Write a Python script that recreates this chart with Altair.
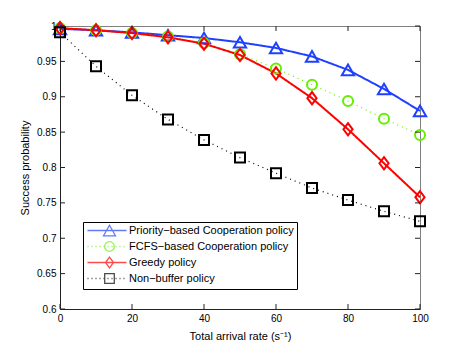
import altair as alt
import pandas as pd

x_vals = [0, 10, 20, 30, 40, 50, 60, 70, 80, 90, 100]
priority = [0.996, 0.994, 0.991, 0.987, 0.983, 0.977, 0.969, 0.957, 0.938, 0.911, 0.880]
fcfs = [0.997, 0.994, 0.990, 0.985, 0.976, 0.960, 0.940, 0.917, 0.894, 0.869, 0.846]
greedy = [0.997, 0.994, 0.990, 0.984, 0.975, 0.959, 0.933, 0.898, 0.854, 0.806, 0.758]
nonbuf = [0.991, 0.943, 0.902, 0.868, 0.839, 0.814, 0.792, 0.771, 0.754, 0.738, 0.724]

series_names = ["Priority\u2212based Cooperation policy", "FCFS\u2212based Cooperation policy",
                "Greedy policy", "Non\u2212buffer policy"]
series_vals = [priority, fcfs, greedy, nonbuf]
colors = ["#2040ff", "#66ee00", "#ff0000", "#000000"]

x_ticks = [0, 20, 40, 60, 80, 100]
y_ticks = [0.6, 0.65, 0.7, 0.75, 0.8, 0.85, 0.9, 0.95, 1.0]
x_min, x_max = 0, 100
y_min, y_max = 0.6, 1.0

FONT = "Liberation Sans"

xs = alt.Scale(domain=[x_min, x_max], nice=False)
ys = alt.Scale(domain=[y_min, y_max], nice=False, zero=False)

diamond_path = "M-0.75,0L0,-1L0.75,0L0,1Z"
marker_shapes = ["triangle-up", "circle", diamond_path, "square"]
marker_sizes = [150, 100, 150, 100]
line_widths = [2, 1.2, 2, 1.2]
dashes = [[1, 0], [1, 4], [1, 0], [1, 4]]

# legend symbols: line + marker in one path, designed in pixels then scaled to symbol units
SYM = 64
u = (SYM ** 0.5) / 2.0          # pixels per path unit


def p(v):
    return f"{v / u:.3f}"


L0, L1, MC = -4, 35, 18          # line start/end and marker centre, px from nominal centre
H = 5.3                          # marker half height
dots = "".join(f"M{p(L0 + 4 * i)},0h{p(1)}" for i in range(10))
leg_paths = [
    f"M{p(L0)},0H{p(L1)}M{p(MC)},{p(-H)}L{p(MC + 6)},{p(H)}L{p(MC - 6)},{p(H)}Z",
    dots + f"M{p(MC + 4.8)},0A{p(4.8)},{p(4.8)} 0 1,1 {p(MC - 4.8)},0A{p(4.8)},{p(4.8)} 0 1,1 {p(MC + 4.8)},0",
    f"M{p(L0)},0H{p(L1)}M{p(MC)},{p(-H)}L{p(MC + 4)},0L{p(MC)},{p(H)}L{p(MC - 4)},0Z",
    dots + f"M{p(MC - 4.8)},{p(-4.8)}H{p(MC + 4.8)}V{p(4.8)}H{p(MC - 4.8)}Z",
]

X = alt.X("x:Q", scale=xs,
          axis=alt.Axis(values=x_ticks, title="Total arrival rate (s\u207b\u00b9)", grid=False,
                        tickSize=0, labelPadding=4, titlePadding=7, labelFlush=False,
                        labelOverlap=False))
Y = alt.Y("y:Q", scale=ys,
          axis=alt.Axis(values=y_ticks, title="Success probability", grid=False, tickSize=0,
                        labelPadding=4, titlePadding=6, labelOverlap=False, labelFlush=False,
                        labelExpr="format(datum.value, '.2~f')"))

layers = []
for name, vals, c, lw, d in zip(series_names, series_vals, colors, line_widths, dashes):
    df = pd.DataFrame({"x": x_vals, "y": vals, "series": name})
    layers.append(alt.Chart(df).mark_line(color=c, strokeWidth=lw, strokeDash=d).encode(x=X, y=Y))
for name, vals, c, shp, sz in zip(series_names, series_vals, colors, marker_shapes, marker_sizes):
    df = pd.DataFrame({"x": x_vals, "y": vals, "series": name})
    layers.append(alt.Chart(df).mark_point(shape=shp, size=sz, filled=False, color=c,
                                           strokeWidth=2, opacity=1).encode(x=X, y=Y))

# legend-only layer (no visible marks)
leg_df = pd.DataFrame({"x": x_vals[:4], "y": [v[0] for v in series_vals], "series": series_names})
legend = alt.Legend(title=None, orient="none", legendX=23, legendY=196,
                    symbolSize=SYM, symbolStrokeWidth=1.3, labelFont=FONT, labelFontSize=11,
                    labelColor="black", labelOffset=32, padding=3, rowPadding=0,
                    strokeColor="black", fillColor="white", labelLimit=300)
layers.append(
    alt.Chart(leg_df).transform_filter("false").mark_point(filled=False).encode(
        x=X, y=Y,
        color=alt.Color("series:N", scale=alt.Scale(domain=series_names, range=colors), legend=legend),
        shape=alt.Shape("series:N", scale=alt.Scale(domain=series_names, range=leg_paths), legend=legend),
    )
)

# inward tick marks along the frame
tick_col = "#222222"
bt = pd.DataFrame({"x": x_ticks, "y": y_min})
tt = pd.DataFrame({"x": x_ticks, "y": y_max})
lt = pd.DataFrame({"x": x_min, "y": y_ticks})
rt = pd.DataFrame({"x": x_max, "y": y_ticks})
layers.append(alt.Chart(bt).mark_tick(orient="vertical", size=5, thickness=1, color=tick_col,
                                      yOffset=-2.5, opacity=1).encode(x=X, y=Y))
layers.append(alt.Chart(tt).mark_tick(orient="vertical", size=5, thickness=1, color=tick_col,
                                      yOffset=2.5, opacity=1).encode(x=X, y=Y))
layers.append(alt.Chart(lt).mark_tick(orient="horizontal", size=5, thickness=1, color=tick_col,
                                      xOffset=2.5, opacity=1).encode(x=X, y=Y))
layers.append(alt.Chart(rt).mark_tick(orient="horizontal", size=5, thickness=1, color=tick_col,
                                      xOffset=-2.5, opacity=1).encode(x=X, y=Y))

chart = alt.layer(*layers).properties(
    width=360, height=283,
    autosize=alt.AutoSizeParams(type="none"),
    padding={"left": 52, "top": 18, "right": 35, "bottom": 34},
    background="white",
).configure_view(stroke="#808080", strokeWidth=1).configure_axis(
    labelFont=FONT, titleFont=FONT, labelFontSize=10, titleFontSize=11,
    titleFontWeight="normal", labelColor="black", titleColor="black",
    domainColor="#222222", domainWidth=1,
)

chart.save("out.html", embed_options={"renderer": "svg", "actions": False})
